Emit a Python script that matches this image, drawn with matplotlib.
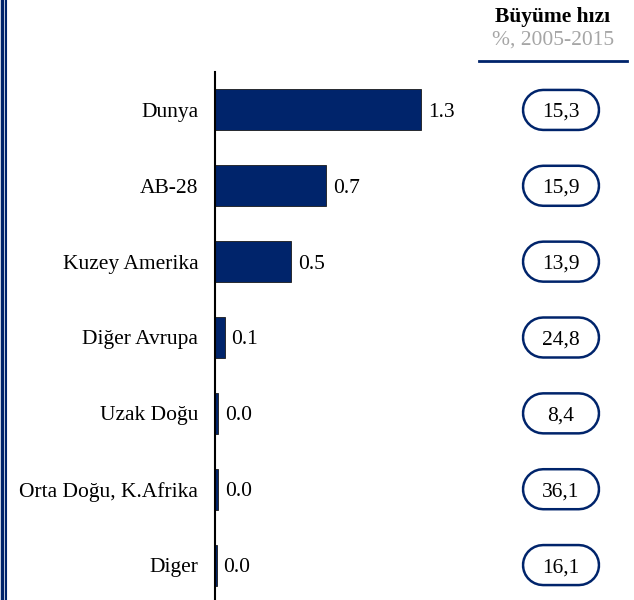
import matplotlib
matplotlib.use("Agg")
from matplotlib import pyplot as plt
from matplotlib import patheffects as pe
from matplotlib.lines import Line2D

# data
regions = ["Dunya", "AB-28", "Kuzey Amerika", "Diğer Avrupa",
           "Uzak Doğu", "Orta Doğu, K.Afrika", "Diger"]
values = [1.3, 0.7, 0.48, 0.06, 0.02, 0.02, 0.01]
growth = ["15,3", "15,9", "13,9", "24,8", "8,4", "36,1", "16,1"]
header_title = "Büyüme hızı"
header_sub = "%, 2005-2015"

NAVY = "#00246B"
FONT = ["Liberation Serif", "DejaVu Serif"]
FS = 15.5

W, H = 634, 600
fig = plt.figure(figsize=(W / 100, H / 100), dpi=100)

# bar axes: rows span y=72..603 px
top_px, bot_px = 72, 603
ax_left, ax_w = 215, 317
ax = fig.add_axes([ax_left / W, 1 - bot_px / H, ax_w / W, (bot_px - top_px) / H])
ypos = list(range(len(regions)))
ax.barh(ypos, values, height=0.54, color=NAVY, edgecolor="#1a1a1a", linewidth=0.6)
ax.set_ylim(len(regions) - 0.5, -0.5)
ax.set_xlim(0, 2)
for y, v in zip(ypos, values):
    ax.annotate(f"{v:.1f}", (v, y), xytext=(5, 0), textcoords="offset points",
                va="center_baseline", ha="left", fontsize=FS, family=FONT)
ax.set_yticks(ypos)
ax.set_yticklabels(regions, fontsize=FS, family=FONT)
ax.tick_params(axis="y", length=0, pad=12)
ax.set_xticks([])
for s in ["top", "right", "bottom"]:
    ax.spines[s].set_visible(False)
ax.spines["left"].set_linewidth(1.5)
ax.patch.set_alpha(0)

# right column with pill-shaped boxes
col_left, col_w = 470, 164
ax2 = fig.add_axes([col_left / W, 1 - bot_px / H, col_w / W, (bot_px - top_px) / H], sharey=ax)
ax2.set_xlim(0, col_w)
ax2.axis("off")
cx = 561 - col_left
half = 18  # straight part of the pill, px
inner_pt = 37.5 * 72 / 100
outer_pt = 42.5 * 72 / 100
for y, g in zip(ypos, growth):
    ax2.plot([cx - half, cx + half], [y, y], color="white", lw=inner_pt,
             solid_capstyle="round", snap=False,
             path_effects=[pe.Stroke(linewidth=outer_pt, foreground=NAVY, capstyle="round"),
                           pe.Normal()])
    ax2.text(cx, y, g, ha="center", va="center_baseline", fontsize=FS, family=FONT)

# header
fig.text(553 / W, 1 - 17 / H, header_title, ha="center", va="center",
         fontsize=FS, family=FONT, fontweight="bold")
fig.text(553 / W, 1 - 40 / H, header_sub, ha="center", va="center",
         fontsize=FS, family=FONT, color="#a6a6a6")
fig.add_artist(Line2D([479 / W, 627 / W], [1 - 61 / H] * 2, color=NAVY, lw=2))

# left double border
fig.add_artist(Line2D([1.5 / W] * 2, [0, 1], color=NAVY, lw=2.5))
fig.add_artist(Line2D([6 / W] * 2, [0, 1], color=NAVY, lw=1.5))

fig.savefig("out.png", dpi=100)
